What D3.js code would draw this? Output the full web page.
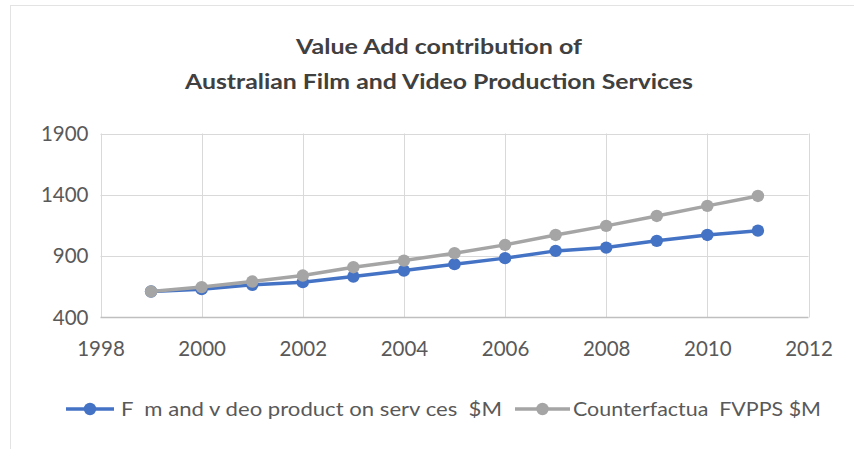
<!DOCTYPE html>
<html><head><meta charset="utf-8">
<script src="https://cdn.jsdelivr.net/npm/d3@7"></script>
<style>body{margin:0;background:#fff}svg{display:block}</style>
</head><body>
<script>
const years = [1999,2000,2001,2002,2003,2004,2005,2006,2007,2008,2009,2010,2011];
const filmVideo = [612,631,666,688,734,783,835,884,943,970,1025,1073,1108];
const counterfactual = [612,648,693,742,810,864,924,992,1073,1147,1228,1310,1391];
const xTicks = [1998,2000,2002,2004,2006,2008,2010,2012];
const yTicks = [400,900,1400,1900];
const seriesNames = ["F  m and v deo product on serv ces  $M","Counterfactua  FVPPS $M"];
const titleLines = ["Value Add contribution of","Australian Film and Video Production Services"];

const W=854,H=449;
const svg=d3.select("body").append("svg").attr("width",W).attr("height",H);
const font="Lato, 'Open Sans', sans-serif";
// outer frame
svg.append("line").attr("x1",10).attr("x2",W).attr("y1",5.5).attr("y2",5.5).attr("stroke","#e3e3e3");
svg.append("line").attr("x1",10.5).attr("x2",10.5).attr("y1",5).attr("y2",H).attr("stroke","#e3e3e3");

const x=d3.scaleLinear().domain([1998,2012]).range([100.5,808.5]);
const y=d3.scaleLinear().domain([400,1900]).range([317.5,133.5]);

// gridlines
const g=svg.append("g");
g.selectAll(".hg").data(yTicks.filter(v=>v>400)).enter().append("line")
 .attr("x1",x(1998)).attr("x2",x(2012)).attr("y1",d=>Math.round(y(d))+0.5).attr("y2",d=>Math.round(y(d))+0.5)
 .attr("stroke","#d9d9d9").attr("stroke-width",1);
g.selectAll(".vg").data(xTicks).enter().append("line")
 .attr("x1",d=>Math.round(x(d))+0.5).attr("x2",d=>Math.round(x(d))+0.5).attr("y1",y(1900)).attr("y2",y(400))
 .attr("stroke","#d9d9d9").attr("stroke-width",1);
// bottom axis line
g.append("line").attr("x1",x(1998)).attr("x2",x(2012)).attr("y1",y(400)).attr("y2",y(400)).attr("stroke","#bfbfbf").attr("stroke-width",1.5);

// axes labels via d3 axes
const xAxis=svg.append("g").attr("transform",`translate(0,${y(400)})`)
 .call(d3.axisBottom(x).tickValues(xTicks).tickFormat(d3.format("d")).tickSize(0).tickPadding(24));
xAxis.select(".domain").remove();
xAxis.selectAll("text").attr("font-family",font).attr("font-size",20.5).attr("fill","#595959");
const yAxis=svg.append("g").attr("transform",`translate(${x(1998)},0)`)
 .call(d3.axisLeft(y).tickValues(yTicks).tickFormat(d3.format("d")).tickSize(0).tickPadding(12));
yAxis.select(".domain").remove();
yAxis.selectAll("text").attr("font-family",font).attr("font-size",20.5).attr("fill","#595959");

const colors=["#4472C4","#A5A5A5"];
const data=[filmVideo,counterfactual];
const line=d3.line().x((d,i)=>x(years[i])).y(d=>y(d));
data.forEach((s,k)=>{
  svg.append("path").datum(s).attr("d",line).attr("fill","none").attr("stroke",colors[k]).attr("stroke-width",3.5).attr("stroke-linejoin","round");
  svg.append("g").selectAll("circle").data(s).enter().append("circle")
   .attr("cx",(d,i)=>x(years[i])).attr("cy",d=>y(d)).attr("r",6.2).attr("fill",colors[k]);
});

// title
const tl=[{t:titleLines[0],y:54,w:286},{t:titleLines[1],y:89,w:508}];
tl.forEach(o=>{
  svg.append("text").attr("x",439).attr("y",o.y).attr("text-anchor","middle")
   .attr("font-family",font).attr("font-weight","bold").attr("font-size",21).attr("fill","#404040")
   .attr("textLength",o.w).attr("lengthAdjust","spacingAndGlyphs").text(o.t);
});

// legend
const leg=[{x0:66,x1:114,tx:121,tw:381},{x0:515,x1:570,tx:573,tw:248}];
leg.forEach((o,k)=>{
  const ly=409;
  svg.append("line").attr("x1",o.x0).attr("x2",o.x1).attr("y1",ly).attr("y2",ly).attr("stroke",colors[k]).attr("stroke-width",3.5);
  svg.append("circle").attr("cx",(o.x0+o.x1)/2).attr("cy",ly).attr("r",6.2).attr("fill",colors[k]);
  svg.append("text").attr("x",o.tx).attr("y",ly+7).attr("font-family",font).attr("font-size",20).attr("fill","#595959")
   .attr("textLength",o.tw).attr("lengthAdjust","spacingAndGlyphs").attr("xml:space","preserve").style("white-space","pre").text(seriesNames[k]);
});
</script>
</body></html>
